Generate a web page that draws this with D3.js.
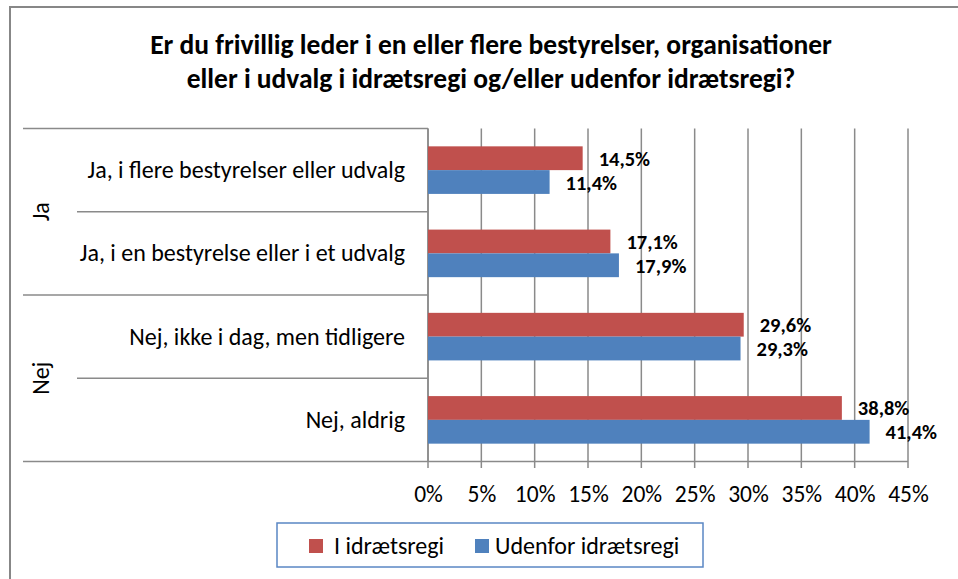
<!DOCTYPE html>
<html>
<head>
<meta charset="utf-8">
<script src="https://cdn.jsdelivr.net/npm/d3@7"></script>
<style>
  body { margin: 0; background: #fff; }
  svg { display: block; }
  text { font-family: Carlito, Lato, "Open Sans", sans-serif; fill: #000; }
</style>
</head>
<body>
<svg id="chart"></svg>
<script>
// Chart data
const titleLines = [
  "Er du frivillig leder i en eller flere bestyrelser, organisationer",
  "eller i udvalg i idrætsregi og/eller udenfor idrætsregi?"
];
const categories = [
  "Ja, i flere bestyrelser eller udvalg",
  "Ja, i en bestyrelse eller i et udvalg",
  "Nej, ikke i dag, men tidligere",
  "Nej, aldrig"
];
const groupOf = ["Ja", "Ja", "Nej", "Nej"];
const groupNames = ["Ja", "Nej"];
const seriesNames = ["I idrætsregi", "Udenfor idrætsregi"];
const iIdraetsregi = [14.5, 17.1, 29.6, 38.8];
const udenforIdraetsregi = [11.4, 17.9, 29.3, 41.4];
const tickValues = [0, 5, 10, 15, 20, 25, 30, 35, 40, 45];

const seriesColors = { "I idrætsregi": "#c0504d", "Udenfor idrætsregi": "#4f81bd" };
const gridColor = "#8a8a8a";

const width = 958, height = 579;
const svg = d3.select("#chart").attr("width", width).attr("height", height);

// outer chart frame (right/bottom edges fall outside the picture)
svg.append("rect")
  .attr("x", 10).attr("y", 7)
  .attr("width", 1000).attr("height", 1000)
  .attr("fill", "none")
  .attr("stroke", "#878787")
  .attr("stroke-width", 2);

// title
svg.append("g").selectAll("text")
  .data(titleLines)
  .join("text")
    .attr("x", 491)
    .attr("y", (d, i) => 54 + i * 34)
    .attr("text-anchor", "middle")
    .attr("font-size", 27.5)
    .attr("font-weight", "bold")
    .text(d => d);

// scales
const x = d3.scaleLinear().domain([0, 45]).range([428, 908]);
const y = d3.scaleBand().domain(categories).range([128.5, 461.5]);
const ySeries = d3.scaleBand()
  .domain(seriesNames)
  .range([0, y.bandwidth()])
  .paddingInner(0)
  .paddingOuter(0.75);

// vertical gridlines (extend below the axis as tick marks)
svg.append("g")
  .selectAll("line")
  .data(tickValues)
  .join("line")
    .attr("x1", d => x(d)).attr("x2", d => x(d))
    .attr("y1", y.range()[0]).attr("y2", y.range()[1] + 6.5)
    .attr("stroke", gridColor)
    .attr("stroke-width", 1.5);

// category separators: full width at group boundaries, shorter inside groups
const boundaries = d3.range(categories.length + 1).map(i => ({
  y: i < categories.length ? y(categories[i]) : y.range()[1],
  groupEdge: i === 0 || i === categories.length || groupOf[i] !== groupOf[i - 1]
}));
svg.append("g")
  .selectAll("line")
  .data(boundaries)
  .join("line")
    .attr("x1", d => d.groupEdge ? 23 : 77)
    .attr("x2", (d, i) => i === categories.length ? x(45) : x(0))
    .attr("y1", d => d.y).attr("y2", d => d.y)
    .attr("stroke", gridColor)
    .attr("stroke-width", 1.5);

// category axis line
svg.append("line")
  .attr("x1", x(0)).attr("x2", x(0))
  .attr("y1", y.range()[0]).attr("y2", y.range()[1])
  .attr("stroke", gridColor)
  .attr("stroke-width", 1.5);

// bars
const rows = categories.map((c, i) => ({
  category: c,
  values: [
    { series: seriesNames[0], value: iIdraetsregi[i] },
    { series: seriesNames[1], value: udenforIdraetsregi[i] }
  ]
}));

const rowG = svg.append("g")
  .selectAll("g")
  .data(rows)
  .join("g")
    .attr("transform", d => `translate(0,${y(d.category)})`);

rowG.selectAll("rect")
  .data(d => d.values)
  .join("rect")
    .attr("x", x(0))
    .attr("y", d => ySeries(d.series))
    .attr("width", d => x(d.value) - x(0))
    .attr("height", ySeries.bandwidth())
    .attr("fill", d => seriesColors[d.series]);

rowG.selectAll("text")
  .data(d => d.values)
  .join("text")
    .attr("x", d => x(d.value) + 16)
    .attr("y", d => ySeries(d.series) + ySeries.bandwidth() / 2 + 7.5)
    .attr("font-size", 20.5)
    .attr("font-weight", "bold")
    .text(d => d3.format(".1f")(d.value).replace(".", ",") + "%");

// category labels
svg.append("g")
  .selectAll("text")
  .data(categories)
  .join("text")
    .attr("x", 405)
    .attr("y", d => y(d) + y.bandwidth() / 2 + 8)
    .attr("text-anchor", "end")
    .attr("font-size", 24)
    .text(d => d);

// group labels (rotated)
svg.append("g")
  .selectAll("text")
  .data(groupNames)
  .join("text")
    .attr("transform", g => {
      const members = categories.filter((c, i) => groupOf[i] === g);
      const cy = (y(members[0]) + y(members[members.length - 1]) + y.bandwidth()) / 2;
      return `translate(41,${cy}) rotate(-90)`;
    })
    .attr("text-anchor", "middle")
    .attr("dy", "0.35em")
    .attr("font-size", 24)
    .text(d => d);

// value axis labels
const xAxis = svg.append("g")
  .attr("transform", `translate(0,${y.range()[1]})`)
  .call(d3.axisBottom(x).tickValues(tickValues).tickSize(0).tickFormat(d => d + "%"));
xAxis.select(".domain").remove();
xAxis.attr("font-family", null).attr("font-size", null);
xAxis.selectAll("text")
  .attr("y", 40)
  .attr("dy", 0)
  .attr("font-size", 23.5)
  .attr("fill", "#000");

// legend
const legend = svg.append("g");
legend.append("rect")
  .attr("x", 277).attr("y", 523)
  .attr("width", 426).attr("height", 44)
  .attr("fill", "#fff")
  .attr("stroke", "#5a87c4")
  .attr("stroke-width", 1.5);
const legendSwatchX = [309, 475];
const legendTextX = [334, 495];
const legendItem = legend.selectAll("g")
  .data(seriesNames)
  .join("g");
legendItem.append("rect")
  .attr("x", (d, i) => legendSwatchX[i]).attr("y", 539)
  .attr("width", 14).attr("height", 14)
  .attr("fill", d => seriesColors[d]);
legendItem.append("text")
  .attr("x", (d, i) => legendTextX[i]).attr("y", 554)
  .attr("font-size", 24)
  .text(d => d);
</script>
</body>
</html>
